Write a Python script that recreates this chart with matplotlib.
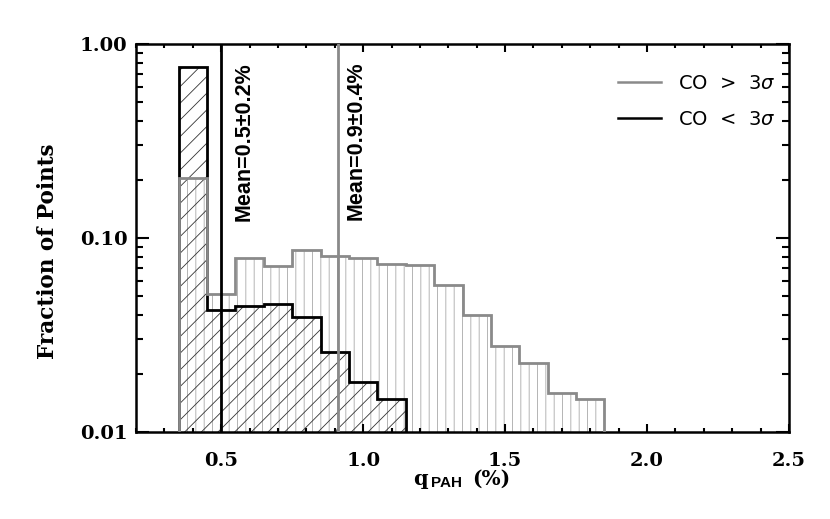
import numpy as np
import matplotlib
matplotlib.use("Agg")
import matplotlib.pyplot as plt
from matplotlib.lines import Line2D
from matplotlib.ticker import FixedLocator, MultipleLocator, LogLocator, NullFormatter

# ---- data ----
bin_edges_gray = [0.35, 0.45, 0.55, 0.65, 0.75, 0.85, 0.95, 1.05, 1.15,
                  1.25, 1.35, 1.45, 1.55, 1.65, 1.75, 1.85]
frac_gray = [0.205, 0.0514, 0.0789, 0.0715, 0.0867, 0.0811, 0.0791, 0.0734,
             0.0728, 0.057, 0.0401, 0.0279, 0.0226, 0.0158, 0.0148]
bin_edges_black = [0.35, 0.45, 0.55, 0.65, 0.75, 0.85, 0.95, 1.05, 1.15]
frac_black = [0.76, 0.0425, 0.0445, 0.0455, 0.0392, 0.0259, 0.0182, 0.0148]
mean_black = 0.5
mean_gray = 0.91
label_black_mean = "Mean=0.5±0.2%"
label_gray_mean = "Mean=0.9±0.4%"
legend_labels = [r"CO  >  3$\sigma$", r"CO  <  3$\sigma$"]
xticks = [0.5, 1.0, 1.5, 2.0, 2.5]
yticks = [0.01, 0.1, 1.0]

GRAY = "#8a8a8a"
HATCH_GRAY = "#a8a8a8"

plt.rcParams["hatch.linewidth"] = 0.6
fig = plt.figure(figsize=(8.3, 5.19), dpi=100)
ax = fig.add_axes([136/830, 1-432/519, (789-136)/830, (432-44)/519])

base = 1e-4
# hatched fills
ax.stairs(frac_gray, bin_edges_gray, baseline=base, fill=True, facecolor="none",
          edgecolor=HATCH_GRAY, linewidth=0, hatch="||", zorder=1)
ax.stairs(frac_black, bin_edges_black, baseline=base, fill=True, facecolor="none",
          edgecolor="#333333", linewidth=0, hatch="//", zorder=2)
# outlines
ax.stairs(frac_black, bin_edges_black, baseline=base, color="black", linewidth=2, zorder=3)
ax.stairs(frac_gray, bin_edges_gray, baseline=base, color=GRAY, linewidth=2, zorder=4)

# mean lines
ax.axvline(mean_black, color="black", linewidth=2, zorder=5)
ax.axvline(mean_gray, color=GRAY, linewidth=2, zorder=5)
ax.text(mean_black + 0.082, 0.954, label_black_mean, rotation=90, va="top", ha="center",
        transform=ax.get_xaxis_transform(), fontsize=15.5, fontweight="bold",
        family="Liberation Sans")
ax.text(mean_gray + 0.066, 0.954, label_gray_mean, rotation=90, va="top", ha="center",
        transform=ax.get_xaxis_transform(), fontsize=15.5, fontweight="bold",
        family="Liberation Sans")

ax.set_xlim(0.2, 2.5)
ax.set_yscale("log")
ax.set_ylim(0.01, 1.0)

ax.xaxis.set_major_locator(FixedLocator(xticks))
ax.xaxis.set_minor_locator(MultipleLocator(0.1))
ax.yaxis.set_major_locator(FixedLocator(yticks))
ax.yaxis.set_minor_locator(LogLocator(base=10, subs=np.arange(2, 10)))
ax.yaxis.set_minor_formatter(NullFormatter())
ax.set_xticklabels([f"{t:.1f}" for t in xticks], family="DejaVu Serif", fontsize=14,
                   fontweight="bold")
ax.set_yticklabels([f"{t:.2f}" for t in yticks], family="DejaVu Serif", fontsize=14,
                   fontweight="bold")

ax.tick_params(axis="x", which="major", direction="in", length=6, width=1.5,
               top=True, bottom=True, pad=14.5)
ax.tick_params(axis="x", which="minor", direction="in", length=3, width=1.5,
               top=True, bottom=True)
ax.tick_params(axis="y", which="major", direction="in", length=9.5, width=1.5,
               left=True, right=True, pad=6)
ax.tick_params(axis="y", which="minor", direction="in", length=4.7, width=1.5,
               left=True, right=True)
for s in ax.spines.values():
    s.set_linewidth(1.8)

ax.set_ylabel("Fraction of Points", family="DejaVu Serif", fontsize=15.5,
              fontweight="bold", labelpad=12)
ax.yaxis.set_label_coords(-0.118, 0.466)

# x label: q_PAH (%)
fig.text(413/830, 1-485/519, "q", family="DejaVu Serif", fontsize=15,
         fontweight="bold", va="baseline", ha="left")
fig.text(431/830, 1-487/519, "PAH", family="Liberation Sans", fontweight="bold",
         fontsize=11, va="baseline", ha="left")
fig.text(472/830, 1-485/519, "(%)", family="DejaVu Serif", fontsize=14.5,
         fontweight="bold", va="baseline", ha="left")

handles = [Line2D([], [], color=GRAY, linewidth=1.8),
           Line2D([], [], color="black", linewidth=1.8)]
ax.legend(handles, legend_labels, loc="upper right", frameon=False,
          prop={"family": "DejaVu Sans", "size": 14}, handlelength=2.2,
          handletextpad=0.9, labelspacing=0.85, bbox_to_anchor=(1.0, 0.957),
          borderaxespad=0.3)

fig.savefig("out.png", dpi=100)
